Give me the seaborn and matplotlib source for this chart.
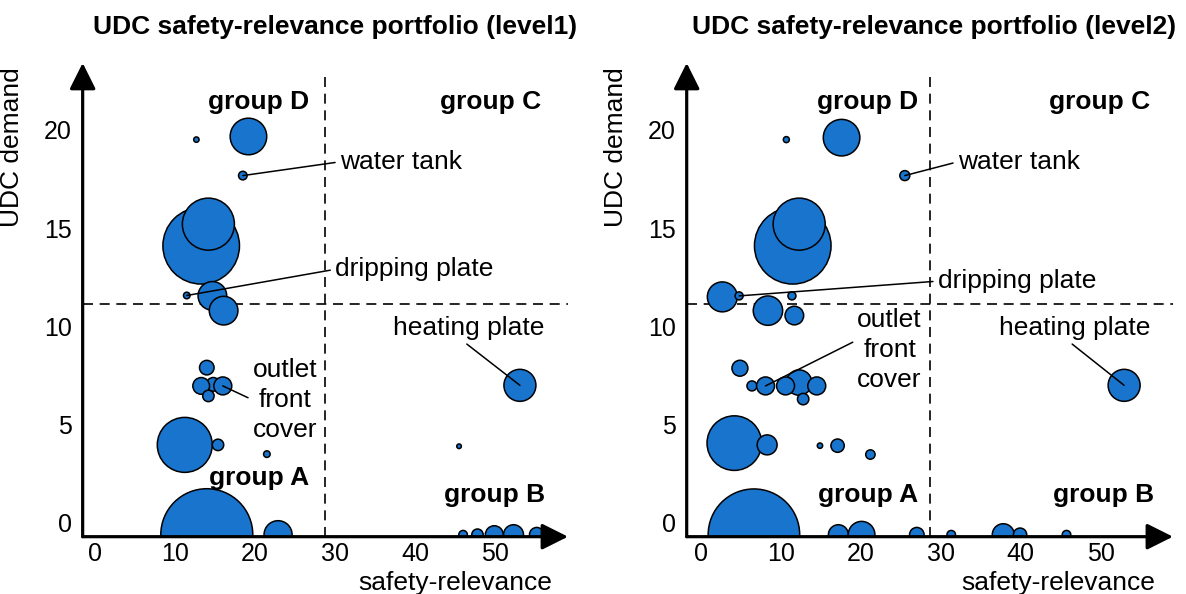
import matplotlib
matplotlib.use("Agg")
import matplotlib.pyplot as plt
import pandas as pd
import seaborn as sns

# ---- level 1 portfolio: safety-relevance, UDC demand, bubble weight (area) ----
l1_safety = [12.7, 19.2, 18.5, 13.3, 14.2, 11.5, 14.7, 16.1,
             14.8, 14.0, 13.3, 16.0, 14.2, 11.25, 15.4, 21.5,
             14.0, 22.9, 53.1, 45.5, 46.0, 47.8, 49.9, 52.3, 55.2]
l1_demand = [19.5, 19.66, 17.67, 14.1, 15.2, 11.57, 11.55, 10.8,
             7.05, 7.9, 6.97, 6.97, 6.46, 3.97, 3.97, 3.5,
             -0.6, -0.6, 7.0, 3.9, -0.6, -0.6, -0.6, -0.6, -0.6]
l1_weight = [0.34, 15.8, 0.87, 69.3, 32.0, 0.51, 9.7, 9.7,
             2.2, 2.5, 3.3, 3.8, 1.54, 35.7, 1.54, 0.51,
             100.0, 9.3, 12.1, 0.25, 0.87, 1.54, 3.8, 4.7, 2.5]

# ---- level 2 portfolio ----
l2_safety = [10.7, 17.6, 25.5, 11.5, 12.3, 2.7, 4.8, 11.4, 8.4, 11.7,
             4.9, 6.4, 8.1, 12.3, 10.6, 14.5, 12.8,
             4.2, 8.3, 14.9, 17.1, 21.2,
             6.65, 17.2, 20.1, 27.0, 31.3, 52.9, 37.8, 39.9, 45.7]
l2_demand = [19.5, 19.6, 17.67, 14.1, 15.2, 11.5, 11.55, 11.55, 10.8, 10.55,
             7.87, 6.97, 6.97, 7.14, 6.97, 6.97, 6.3,
             4.06, 3.97, 3.93, 3.93, 3.48,
             -0.6, -0.6, -0.6, -0.6, -0.6, 7.0, -0.6, -0.6, -0.6]
l2_weight = [0.43, 15.8, 1.18, 69.3, 32.0, 10.6, 0.76, 0.76, 10.2, 4.1,
             3.0, 1.18, 3.8, 7.6, 3.8, 3.8, 1.54,
             35.2, 4.7, 0.34, 2.1, 1.04,
             99.0, 4.7, 8.4, 2.5, 0.87, 12.1, 5.7, 2.1, 0.87]

x_ticks = [0, 10, 20, 30, 40, 50]
y_ticks = [0, 5, 10, 15, 20]
safety_split = 28.7
demand_split = 11.15

titles = ["UDC safety-relevance portfolio (level1)",
          "UDC safety-relevance portfolio (level2)"]
group_names = ["group D", "group C", "group A", "group B"]
l1_group_pos = [(20.5, 21.4), (49.4, 21.4), (20.5, 2.3), (49.9, 1.4)]
l2_group_pos = [(20.9, 21.4), (49.8, 21.4), (20.9, 1.4), (50.3, 1.4)]

# callouts: label, bubble (x, y), text anchor (x, y), ha, line attachment on text box
l1_callouts = [
    ("water tank", (18.5, 17.67), (30.6, 18.37), "left", (0, 0.5)),
    ("dripping plate", (11.5, 11.57), (30.0, 12.9), "left", (0, 0.5)),
    ("heating plate", (53.1, 7.0), (46.75, 9.92), "center", (0.45, 0)),
    ("outlet\nfront\ncover", (16.0, 6.97), (23.75, 6.26), "center", (0, 0.5)),
]
l2_callouts = [
    ("water tank", (25.5, 17.67), (32.1, 18.37), "left", (0, 0.5)),
    ("dripping plate", (4.8, 11.55), (29.6, 12.3), "left", (0, 0.5)),
    ("heating plate", (52.9, 7.0), (46.7, 9.92), "center", (0.45, 0)),
    ("outlet\nfront\ncover", (8.1, 6.97), (23.6, 8.8), "center", (0, 0.62)),
]

BLUE = "#1874CD"
FS = 19

sns.set_theme(style="white")
plt.rcParams["font.family"] = ["Liberation Sans", "DejaVu Sans"]
plt.rcParams.update({"text.color": "black", "axes.labelcolor": "black",
                     "axes.titlecolor": "black", "xtick.color": "black",
                     "ytick.color": "black"})

fig = plt.figure(figsize=(11.86, 5.94), dpi=100)
ax1 = fig.add_axes([0.0697, 0.0965, 0.4092, 0.7975])
ax2 = fig.add_axes([0.5790, 0.0965, 0.4100, 0.7975])

# bubble radius 46 px corresponds to weight 100
SMAX = (2 * 46 * 0.72) ** 2

panels = [
    (ax1, l1_safety, l1_demand, l1_weight, titles[0], l1_group_pos, l1_callouts,
     (-1.5, 59.1), 0.52),
    (ax2, l2_safety, l2_demand, l2_weight, titles[1], l2_group_pos, l2_callouts,
     (-1.75, 59.0), 0.508),
]

for ax, xs, ys, ws, title, gpos, callouts, xlim, tx in panels:
    df = pd.DataFrame({"safety": xs, "demand": ys, "weight": ws})
    sns.scatterplot(data=df, x="safety", y="demand", size="weight",
                    sizes=(0, SMAX), size_norm=(0, 100), color=BLUE,
                    edgecolor="black", linewidth=1.1, alpha=1.0,
                    legend=False, ax=ax, zorder=3)
    ax.set_xlim(*xlim)
    ax.set_ylim(-0.7, 23.4)

    for s in ax.spines.values():
        s.set_visible(False)
    ax.grid(False)
    ax.set_xticks(x_ticks)
    ax.set_yticks(y_ticks)
    ax.tick_params(axis="both", length=0, labelsize=FS - 1, colors="black")
    ax.tick_params(axis="x", pad=4)
    ax.tick_params(axis="y", pad=8)

    # axes drawn as arrows
    for end in [(1, 0), (0, 1)]:
        ax.annotate("", xy=end, xytext=(0, 0), xycoords="axes fraction",
                    textcoords="axes fraction", annotation_clip=False,
                    arrowprops=dict(arrowstyle="-|>,head_length=0.8,head_width=0.4",
                                    mutation_scale=20, lw=2.3, color="black",
                                    shrinkA=0, shrinkB=0))

    # quadrant dividers
    ax.axvline(safety_split, ymax=0.975, color="black", lw=1.2,
               ls=(0, (6, 4)), zorder=1)
    ax.axhline(demand_split, color="black", lw=1.2, ls=(0, (6, 4)), zorder=1)

    for name, (gx, gy) in zip(group_names, gpos):
        ax.text(gx, gy, name, fontsize=FS, fontweight="bold",
                ha="center", va="center", zorder=4)

    for label, target, pos, ha, rel in callouts:
        ax.annotate(label, xy=target, xytext=pos, fontsize=FS, ha=ha,
                    va="center", linespacing=1.3, zorder=5,
                    arrowprops=dict(arrowstyle="-", color="black", lw=1.1,
                                    shrinkA=1, shrinkB=0, relpos=rel))

    ax.set_title(title, fontsize=FS, fontweight="bold", x=tx, pad=21)
    ax.set_xlabel("safety-relevance", fontsize=FS, ha="right")
    ax.set_ylabel("UDC demand", fontsize=FS, ha="right")

ax1.xaxis.set_label_coords(0.967, -0.072)
ax2.xaxis.set_label_coords(0.963, -0.072)
ax1.yaxis.set_label_coords(-0.121, 0.99)
ax2.yaxis.set_label_coords(-0.121, 0.99)

fig.savefig("out.png", dpi=100)
